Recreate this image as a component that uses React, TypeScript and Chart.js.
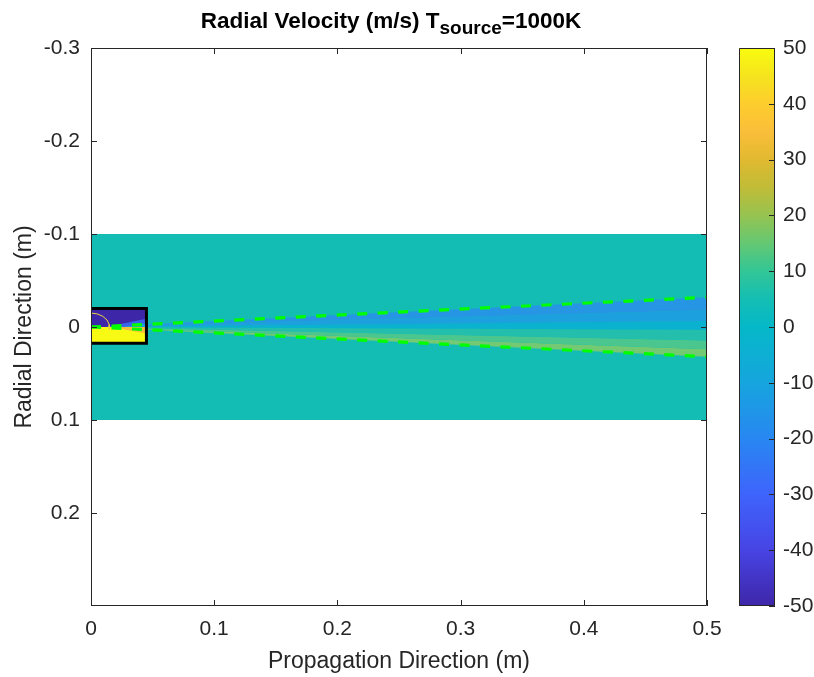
import React, { useEffect, useRef } from 'react';
import { Chart, registerables } from 'chart.js';

Chart.register(...registerables);

const FONT = '"Liberation Sans", Arial, Helvetica, sans-serif';
const TEXT = '#262626';

// ---------- data ----------
const xTicks = [0, 0.1, 0.2, 0.3, 0.4, 0.5];
const yTicks = [-0.3, -0.2, -0.1, 0, 0.1, 0.2];
const cbTicks = [-50, -40, -30, -20, -10, 0, 10, 20, 30, 40, 50];

// computational domain (teal band)
const domainX = [0, 0.5];
const domainTop = [-0.1, -0.1];
const domainBottom = [0.1, 0.1];
const domainColor = 'rgb(20,189,180)';

// plume: band boundaries, y at x=0 and at x=0.5
const plumeX = [0, 0.5];
const plumeStartY = [0, 0, 0, 0, 0, 0, 0];
const plumeEndY = [-0.032, -0.018, -0.0065, 0.003, 0.0145, 0.024, 0.032];
const plumeBandColors = [
  'rgb(38,150,228)',
  'rgb(28,160,222)',
  'rgb(10,178,208)',
  'rgb(35,190,172)',
  'rgb(75,198,142)',
  'rgb(115,202,115)',
];

// source box
const sourceX = [0, 0.045];
const sourceTop = -0.02;
const sourceBottom = 0.0175;
const sourceTopColor = 'rgb(62,38,168)';
const sourceBottomColor = 'rgb(249,250,20)';
const wedgeStartX = [0.012, 0.026, 0.016];
const wedgeEndY = [-0.009, -0.004, 0.007];
const wedgeColors = ['rgb(55,100,235)', 'rgb(30,160,220)', 'rgb(246,190,60)'];

// divergence lines (dashed)
const coneX = [0, 0.5];
const coneUpper = [0, -0.032];
const coneLower = [0, 0.032];

// small yellow arc in the source
const arcX = [0, 0.005, 0.0096, 0.013, 0.0148, 0.0148];
const arcY = [-0.015, -0.0141, -0.0115, -0.0075, -0.0026, 0.0026];

// colormap (parula-like) for the colour bar
const cmapPos = [0, 0.1, 0.2, 0.3, 0.4, 0.5, 0.55, 0.6, 0.65, 0.7, 0.75, 0.8, 0.85, 0.9, 0.95, 1];
const cmapColors = [
  'rgb(62,38,168)',
  'rgb(71,68,228)',
  'rgb(62,100,252)',
  'rgb(40,135,242)',
  'rgb(22,165,222)',
  'rgb(5,184,200)',
  'rgb(20,190,180)',
  'rgb(50,198,150)',
  'rgb(100,200,115)',
  'rgb(150,195,80)',
  'rgb(192,188,55)',
  'rgb(225,185,48)',
  'rgb(250,190,58)',
  'rgb(253,205,45)',
  'rgb(245,228,30)',
  'rgb(249,251,14)',
];

const titleMain = 'Radial Velocity (m/s) T';
const titleSub = 'source';
const titleTail = '=1000K';
const xLabel = 'Propagation Direction (m)';
const yLabel = 'Radial Direction (m)';

// ---------- helpers ----------
const pts = (xs: number[], ys: number[]) => xs.map((x, i) => ({ x, y: ys[i] }));

const base = { pointRadius: 0, pointHoverRadius: 0, borderWidth: 0, tension: 0 };

function buildDatasets() {
  const ds: any[] = [];
  // teal domain
  ds.push({
    ...base,
    data: pts(domainX, domainTop),
    fill: { value: domainBottom[0] },
    backgroundColor: domainColor,
    borderColor: domainColor,
    order: 100,
  });
  // plume boundaries
  const firstPlume = ds.length;
  plumeEndY.forEach((endY, i) => {
    ds.push({
      ...base,
      data: pts(plumeX, [plumeStartY[i], endY]),
      fill: i === 0 ? false : { target: firstPlume + i - 1 },
      backgroundColor: i === 0 ? 'transparent' : plumeBandColors[i - 1],
      borderColor: 'transparent',
      order: 90,
    });
  });
  // source halves
  ds.push({
    ...base,
    data: pts(sourceX, [sourceTop, sourceTop]),
    fill: { value: 0 },
    backgroundColor: sourceTopColor,
    borderColor: 'transparent',
    order: 80,
  });
  ds.push({
    ...base,
    data: pts(sourceX, [sourceBottom, sourceBottom]),
    fill: { value: 0 },
    backgroundColor: sourceBottomColor,
    borderColor: 'transparent',
    order: 80,
  });
  wedgeStartX.forEach((sx, i) => {
    ds.push({
      ...base,
      data: pts([sx, sourceX[1]], [0, wedgeEndY[i]]),
      fill: { value: 0 },
      backgroundColor: wedgeColors[i],
      borderColor: 'transparent',
      order: 75 - i,
    });
  });
  // arc
  ds.push({
    ...base,
    data: pts(arcX, arcY),
    fill: false,
    borderColor: 'rgb(235,215,60)',
    borderWidth: 1,
    order: 65,
  });
  // source border (three sides)
  ds.push({
    ...base,
    data: pts(
      [sourceX[0], sourceX[1], sourceX[1], sourceX[0]],
      [sourceTop, sourceTop, sourceBottom, sourceBottom]
    ),
    fill: false,
    borderColor: '#000',
    borderWidth: 3,
    borderJoinStyle: 'miter',
    order: 60,
  });
  // dashed cone lines
  [coneUpper, coneLower].forEach((ys) => {
    ds.push({
      ...base,
      data: pts(coneX, ys),
      fill: false,
      borderColor: '#00ff00',
      borderWidth: 3.2,
      borderDash: [10, 10.5],
      order: 50,
    });
  });
  return ds;
}

const framePlugin = {
  id: 'frameTicks',
  afterDatasetsDraw(chart: any) {
    const { ctx, chartArea: a, scales } = chart;
    ctx.save();
    ctx.strokeStyle = TEXT;
    ctx.lineWidth = 1;
    ctx.beginPath();
    ctx.rect(Math.round(a.left) + 0.5, Math.round(a.top) + 0.5, Math.round(a.right - a.left) - 1, Math.round(a.bottom - a.top) - 1);
    ctx.stroke();
    const tl = 6;
    ctx.beginPath();
    xTicks.forEach((v) => {
      const px = Math.round(scales.x.getPixelForValue(v)) + 0.5;
      ctx.moveTo(px, a.bottom);
      ctx.lineTo(px, a.bottom - tl);
      ctx.moveTo(px, a.top);
      ctx.lineTo(px, a.top + tl);
    });
    yTicks.forEach((v) => {
      const py = Math.round(scales.y.getPixelForValue(v)) + 0.5;
      ctx.moveTo(a.left, py);
      ctx.lineTo(a.left + tl, py);
      ctx.moveTo(a.right, py);
      ctx.lineTo(a.right - tl, py);
    });
    ctx.stroke();
    ctx.restore();
  },
  afterDraw(chart: any) {
    const { ctx } = chart;
    ctx.save();
    ctx.fillStyle = '#000';
    ctx.textBaseline = 'alphabetic';
    ctx.textAlign = 'left';
    const big = `bold 22.5px ${FONT}`;
    const small = `bold 19px ${FONT}`;
    ctx.font = big;
    const w1 = ctx.measureText(titleMain).width;
    const w3 = ctx.measureText(titleTail).width;
    ctx.font = small;
    const w2 = ctx.measureText(titleSub).width;
    const total = w1 + w2 + w3;
    let x = 391 - total / 2;
    const baseline = 27.5;
    ctx.font = big;
    ctx.fillText(titleMain, x, baseline);
    x += w1;
    ctx.font = small;
    ctx.fillText(titleSub, x, baseline + 6.5);
    x += w2;
    ctx.font = big;
    ctx.fillText(titleTail, x, baseline);
    ctx.restore();
  },
};

const cbFramePlugin = {
  id: 'cbFrame',
  afterDatasetsDraw(chart: any) {
    const { ctx, chartArea: a, scales } = chart;
    ctx.save();
    ctx.strokeStyle = TEXT;
    ctx.lineWidth = 1;
    ctx.beginPath();
    ctx.rect(Math.round(a.left) + 0.5, Math.round(a.top) + 0.5, Math.round(a.right - a.left) - 1, Math.round(a.bottom - a.top) - 1);
    ctx.stroke();
    ctx.beginPath();
    cbTicks.forEach((v) => {
      const py = Math.round(scales.y.getPixelForValue(v)) + 0.5;
      ctx.moveTo(a.right, py);
      ctx.lineTo(a.right - 6, py);
    });
    ctx.stroke();
    ctx.restore();
  },
};

export default function App() {
  const mainRef = useRef<HTMLCanvasElement>(null);
  const cbRef = useRef<HTMLCanvasElement>(null);

  useEffect(() => {
    const main = new Chart(mainRef.current as HTMLCanvasElement, {
      type: 'line',
      data: { datasets: buildDatasets() },
      options: {
        animation: false,
        responsive: false,
        devicePixelRatio: 1,
        events: [],
        layout: { padding: { top: 48, right: 23, left: 0, bottom: 0 } },
        plugins: {
          legend: { display: false },
          tooltip: { enabled: false },
          filler: { propagate: false },
        },
        scales: {
          x: {
            type: 'linear',
            min: 0,
            max: 0.5,
            afterFit: (s: any) => {
              s.height = 71;
              s.paddingLeft = 0;
              s.paddingRight = 0;
            },
            afterBuildTicks: (s: any) => {
              s.ticks = xTicks.map((v) => ({ value: v }));
            },
            grid: { display: false, drawTicks: false },
            border: { display: false },
            ticks: {
              padding: 11,
              color: TEXT,
              font: { size: 21, family: FONT },
              maxRotation: 0,
              autoSkip: false,
              callback: (v: any) => String(Number(Number(v).toFixed(2))),
            },
            title: {
              display: true,
              text: xLabel,
              color: TEXT,
              font: { size: 23, family: FONT },
              padding: { top: 0, bottom: 2 },
            },
          },
          y: {
            type: 'linear',
            reverse: true,
            min: -0.3,
            max: 0.3,
            afterFit: (s: any) => {
              s.width = 91;
              s.paddingTop = 0;
              s.paddingBottom = 0;
            },
            afterBuildTicks: (s: any) => {
              s.ticks = yTicks.map((v) => ({ value: v }));
            },
            grid: { display: false, drawTicks: false },
            border: { display: false },
            ticks: {
              padding: 11,
              color: TEXT,
              font: { size: 21, family: FONT },
              autoSkip: false,
              callback: (v: any) => String(Number(Number(v).toFixed(2))),
            },
            title: {
              display: true,
              text: yLabel,
              color: TEXT,
              font: { size: 23, family: FONT },
              padding: { top: 11, bottom: 0 },
            },
          },
        },
      } as any,
      plugins: [framePlugin],
    });

    const cb = new Chart(cbRef.current as HTMLCanvasElement, {
      type: 'bar',
      data: {
        labels: [''],
        datasets: [
          {
            data: [[cbTicks[0], cbTicks[cbTicks.length - 1]]] as any,
            barPercentage: 1,
            categoryPercentage: 1,
            borderWidth: 0,
            backgroundColor: (c: any) => {
              const chart = c.chart;
              const y = chart.scales && chart.scales.y;
              if (!chart.chartArea || !y) return cmapColors[0];
              const g = chart.ctx.createLinearGradient(
                0,
                y.getPixelForValue(cbTicks[0]),
                0,
                y.getPixelForValue(cbTicks[cbTicks.length - 1])
              );
              cmapPos.forEach((p, i) => g.addColorStop(p, cmapColors[i]));
              return g;
            },
          },
        ],
      },
      options: {
        animation: false,
        responsive: false,
        devicePixelRatio: 1,
        events: [],
        layout: { padding: { top: 48, left: 9, right: 0, bottom: 71 } },
        plugins: { legend: { display: false }, tooltip: { enabled: false } },
        scales: {
          x: { display: false },
          y: {
            position: 'right',
            min: -50,
            max: 50,
            afterFit: (s: any) => {
              s.width = 39;
              s.paddingTop = 0;
              s.paddingBottom = 0;
            },
            grid: { display: false, drawTicks: false },
            border: { display: false },
            ticks: {
              stepSize: 10,
              padding: 8,
              color: TEXT,
              font: { size: 21, family: FONT },
            },
          },
        },
      } as any,
      plugins: [cbFramePlugin],
    });

    return () => {
      main.destroy();
      cb.destroy();
    };
  }, []);

  return (
    <div style={{ position: 'absolute', left: 0, top: 0, width: 814, height: 677, background: '#fff', overflow: 'hidden' }}>
      <canvas ref={mainRef} width={730} height={677} style={{ position: 'absolute', left: 0, top: 0, width: 730, height: 677 }} />
      <canvas ref={cbRef} width={84} height={677} style={{ position: 'absolute', left: 730, top: 0, width: 84, height: 677 }} />
    </div>
  );
}
